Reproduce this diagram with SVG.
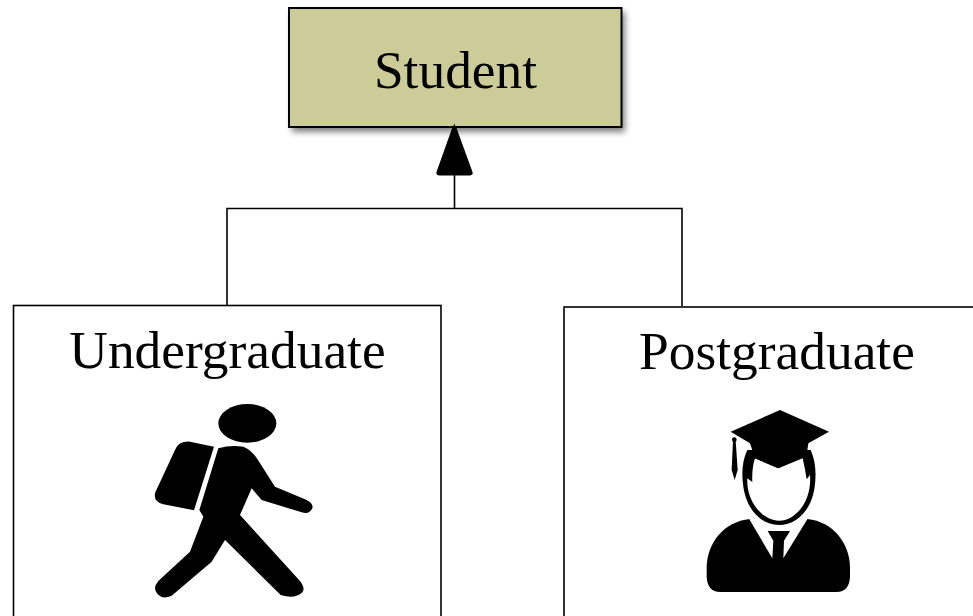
<svg xmlns="http://www.w3.org/2000/svg" width="973" height="616" viewBox="0 0 973 616">
<style>
text{font-family:"Liberation Serif","Times New Roman",serif;font-size:53.400px;fill:#000;text-anchor:middle}
.box{fill:#fff;stroke:#000;stroke-width:1.600}
.wire{fill:none;stroke:#000;stroke-width:1.600}
</style>
<defs>
<filter id="shadow" x="-10%" y="-10%" width="125%" height="130%"><feGaussianBlur stdDeviation="3"/></filter>
<filter id="soft" x="-5%" y="-5%" width="110%" height="110%"><feGaussianBlur stdDeviation="1.500"/></filter>
</defs>
<rect width="973" height="616" fill="#fff"/>
<g id="connectors">
<path class="wire" d="M227 305V208.500H682V306M454.500 208.500V170"/>
<path d="M454.300 123.500L472 172Q473 175 470 175H439Q436 175 437 172Z" fill="#000" stroke="#000" stroke-width="1" stroke-linejoin="round"/>
</g>
<g id="node-student">
<rect x="292" y="12" width="333" height="120" fill="#000" opacity=".5" filter="url(#shadow)"/>
<rect x="289" y="8" width="332.500" height="119" fill="#CCCC99" stroke="#000" stroke-width="2"/>
<text x="455.500" y="88">Student</text>
<path d="M454.300 123.500L458 134H450.600Z" fill="#000"/>
</g>
<g id="node-undergraduate">
<rect class="box" x="13.500" y="305.500" width="427.500" height="320"/>
<text x="227.500" y="367.500">Undergraduate</text>
<g transform="translate(140 395) scale(.33333)" filter="url(#soft)">
<ellipse cx="322" cy="85" rx="87" ry="58"/>
<path d="M105 165Q115 138 150 140L222 155L162 346L70 328Q38 320 46 292Z"/>
<path d="M235 160Q270 150 310 155Q335 165 352 192L405 275L495 313Q522 325 517 340Q508 360 485 352L365 315L335 280L300 360L480 558Q497 580 487 592Q465 614 422 600L255 435L215 500L95 602Q68 614 53 598Q36 580 55 558L150 470L190 365L178 345Z"/>
</g>
</g>
<g id="node-postgraduate">
<rect class="box" x="564" y="307" width="420" height="320"/>
<text x="777" y="368.500">Postgraduate</text>
<g transform="translate(690 400) scale(.33333)" filter="url(#soft)">
<path d="M50 500C52 430 100 365 180 357L352 357C430 365 478 430 480 500V530Q478 575 440 576H90Q52 575 50 530Z"/>
<path d="M178 358L247 475L250 422L233 393H300L282 422L280 475L352 358L300 340H230Z" fill="#fff"/>
<path d="M172 150C155 185 155 225 160 260C170 330 215 375 267 375C320 375 365 330 374 260C379 225 378 185 362 150Z"/>
<path d="M195 175L265 205L338 175Q345 205 350 238L360 225C366 300 320 362 267 362C215 362 168 300 172 235L187 246Q185 205 195 175Z" fill="#fff"/>
<path d="M270 30L417 95L355 130L350 165L265 205L195 175L180 130L122 95Z"/>
<circle cx="133" cy="119" r="7"/>
<path d="M129 122H137L143 210L134 240L125 210Z"/>
</g>
</g>
</svg>
